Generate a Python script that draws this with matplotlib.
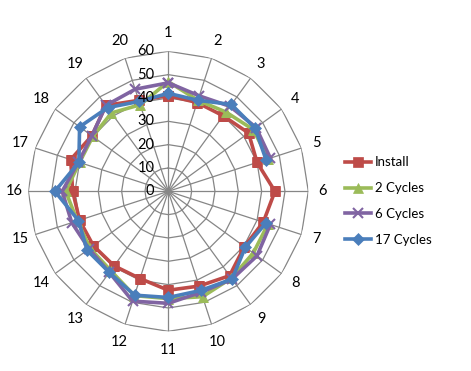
import numpy as np
import matplotlib
matplotlib.use("Agg")
import matplotlib.pyplot as plt

# radar chart of 20 positions, 4 measurement series (Excel style)

plt.rcParams['font.family'] = ['Lato', 'DejaVu Sans']

categories = [str(i) for i in range(1, 21)]
radial_ticks = [0, 10, 20, 30, 40, 50, 60]

install   = [41, 40, 40, 42.5, 40, 45.7, 42.8, 40.3, 44.7, 42.7, 42.4, 39.3, 39.5, 39.7, 40, 41, 44, 40.5, 45.5, 41]
cycles_2  = [47, 41, 42, 45, 45, np.nan, 45, 45, 46, 47.5, 46, 47, 42, 41.5, 41, 44, 40, 40, 41.5, 39]
cycles_6  = [46.5, 43, 45, 46.5, 46, np.nan, 46, 47, 46.5, 45.5, 48, 49.5, 43, 42, 43.5, 45.5, 40.5, 40.5, 45.5, 46]
cycles_17 = [42, 41, 46, 46, 44, np.nan, 44, 40.8, 46.5, 44.7, 45.5, 46.8, 43, 43, 40.5, 48.6, 40.3, 47, 44.3, 40.5]

series = [
    ("Install", install, "#BE4B48", "s", 7),
    ("2 Cycles", cycles_2, "#9BBB59", "^", 7),
    ("6 Cycles", cycles_6, "#8064A2", "x", 7),
    ("17 Cycles", cycles_17, "#4A7EBB", "D", 6),
]

GRID = "#868686"

fig = plt.figure(figsize=(4.71, 3.71), dpi=100)
ax = fig.add_axes([0.0601, 0.107, 0.5945, 0.7547], projection="polar")
ax.set_theta_zero_location("N")
ax.set_theta_direction(-1)
ax.set_ylim(0, 60)
ax.grid(False)
ax.set_xticks([])
ax.set_yticks([])
ax.spines["polar"].set_visible(False)
ax.patch.set_visible(False)

n = len(categories)
angles = np.deg2rad(np.arange(n) * 360.0 / n)
closed = np.append(angles, angles[0])

# polygon gridlines + spokes
for r in radial_ticks[1:]:
    ax.plot(closed, [r] * (n + 1), color=GRID, lw=0.9, zorder=1)
for a in angles:
    ax.plot([a, a], [0, 60], color=GRID, lw=0.9, zorder=1)

for name, vals, col, mk, ms in series:
    v = np.append(vals, vals[0])
    ax.plot(closed, v, color=col, lw=2.6, marker=mk, markersize=ms,
            markeredgewidth=1.5 if mk == "x" else 0.5, label=name, zorder=3)

# category labels
for a, c in zip(angles, categories):
    rr = 66 + 2 * abs(np.cos(a))
    ax.text(a, rr, c, ha="center", va="center", fontsize=10.5, clip_on=False)

# radial value labels
for v in radial_ticks:
    ax.annotate(str(v), xy=(0, v), xytext=(-10, 0), textcoords="offset points",
                ha="right", va="center", fontsize=10.5, zorder=5)

fig.legend(loc="center left", bbox_to_anchor=(0.707, 0.458), frameon=False,
           fontsize=9.5, handlelength=2.0, handletextpad=0.3, labelspacing=1.05)

fig.savefig("out.png", dpi=100)
